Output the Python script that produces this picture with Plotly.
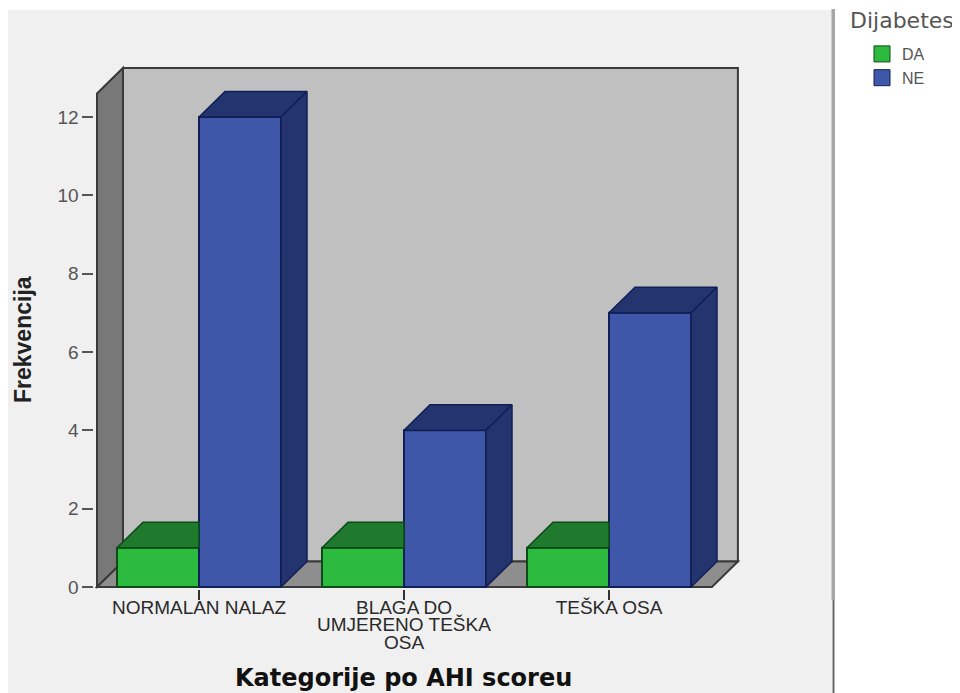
import plotly.graph_objects as go

# the page adds an 8 px body margin and the paper area ends above the figure's bottom,
# so paper positions are worked out against that effective area
PAGE = 8
W, H = 960 - PAGE, 693
H_EFF = 684
def fx(px): return (px - PAGE) / W
def fy(py): return 1 - (py - PAGE) / H_EFF

# data
label_lines = [["NORMALAN NALAZ"], ["BLAGA DO", "UMJERENO TEŠKA", "OSA"], ["TEŠKA OSA"]]
positions = [0, 1, 2]
da_values = [1, 1, 1]
ne_values = [12, 4, 7]
y_ticks = [0, 2, 4, 6, 8, 10, 12]

# style / layout
PX_X, PX_Y = 205.0, 39.17
X0_PX, Y0_PX = 199.0, 587.0
xr = [-0.51, 2.66]
yr = [-0.04, 13.4]
BW = 0.4
DX, DY = 26 / PX_X, 25.5 / PX_Y
WALL_L, FLOOR_R = -0.4976, 2.502
WALL_TOP = 13.25
FRONT_TOP = WALL_TOP - DY
GREEN, GREEN_D = "#2cbb3e", "#1f7a2e"
BLUE, BLUE_D = "#3f57a9", "#24346f"
EDGE_G, EDGE_B = "#0c4a18", "#101f55"

dom_x = [fx(X0_PX + xr[0] * PX_X), fx(X0_PX + xr[1] * PX_X)]
dom_y = [fy(Y0_PX - yr[0] * PX_Y), fy(Y0_PX - yr[1] * PX_Y)]

fig = go.Figure()
fig.add_bar(x=positions, y=da_values, name="DA", marker=dict(color=GREEN, line=dict(color=EDGE_G, width=2)), showlegend=False)
fig.add_bar(x=positions, y=ne_values, name="NE", marker=dict(color=BLUE, line=dict(color=EDGE_B, width=2)), showlegend=False)

def poly(xs, ys, color, edge):
    fig.add_scatter(x=xs + xs[:1], y=ys + ys[:1], mode="lines", fill="toself", fillcolor=color,
                    line=dict(color=edge, width=1.5), showlegend=False, hoverinfo="skip")

for p, v in zip(positions, da_values):
    l = p - BW
    poly([l, l + DX, p, p], [v, v + DY, v + DY, v], GREEN_D, EDGE_G)
for p, v in zip(positions, ne_values):
    r = p + BW
    poly([p, p + DX, r + DX, r], [v, v + DY, v + DY, v], BLUE_D, EDGE_B)
    poly([r, r + DX, r + DX, r], [v, v + DY, DY, 0], BLUE_D, EDGE_B)

for name, color, edge in [("DA", GREEN, EDGE_G), ("NE", BLUE, EDGE_B)]:
    fig.add_scatter(x=[None], y=[None], mode="markers", name=name,
                    marker=dict(symbol="square", size=16, color=color, line=dict(color=edge, width=1)))

def path(pts):
    return "M" + "L".join(f"{a},{b}" for a, b in pts) + "Z"

WALL_EDGE = "#3a3a3a"
shapes = [
    dict(type="rect", xref="paper", yref="paper", x0=fx(8), x1=fx(832), y0=fy(700), y1=fy(10),
         fillcolor="#f0f0f0", line_width=0, layer="below"),
    dict(type="rect", xref="paper", yref="paper", x0=fx(831.5), x1=fx(835), y0=fy(600), y1=fy(9),
         fillcolor="#a6a6a6", line_width=0, layer="below"),
    dict(type="rect", xref="paper", yref="paper", x0=fx(832.5), x1=fx(834.5), y0=fy(700), y1=fy(600),
         fillcolor="#666666", line_width=0, layer="below"),
    dict(type="path", xref="x", yref="y", layer="below", fillcolor="#c0c0c0", line=dict(color=WALL_EDGE, width=2),
         path=path([(WALL_L + DX, DY), (WALL_L + DX, WALL_TOP), (FLOOR_R + DX, WALL_TOP), (FLOOR_R + DX, DY)])),
    dict(type="path", xref="x", yref="y", layer="below", fillcolor="#787878", line=dict(color=WALL_EDGE, width=2),
         path=path([(WALL_L, 0), (WALL_L, FRONT_TOP), (WALL_L + DX, WALL_TOP), (WALL_L + DX, DY)])),
    dict(type="path", xref="x", yref="y", layer="below", fillcolor="#8e8e8e", line=dict(color=WALL_EDGE, width=2),
         path=path([(WALL_L, 0), (WALL_L + DX, DY), (FLOOR_R + DX, DY), (FLOOR_R, 0)])),
]

annotations = [
    dict(text="<b>Frekvencija</b>", xref="paper", yref="paper", x=fx(23), y=fy(340), textangle=-90, showarrow=False,
         xanchor="center", yanchor="middle", font=dict(family="Liberation Sans", size=23, color="#222222")),
    dict(text="<b>Kategorije po AHI scoreu</b>", xref="paper", yref="paper", x=fx(403), y=fy(678), showarrow=False,
         xanchor="center", yanchor="middle", font=dict(family="DejaVu Sans", size=24, color="#111111")),
    dict(text="Dijabetes", xref="paper", yref="paper", x=fx(902), y=fy(20), showarrow=False,
         xanchor="center", yanchor="middle", font=dict(family="DejaVu Sans", size=22, color="#555555")),
]
for p, lines in zip(positions, label_lines):
    for i, line in enumerate(lines[1:], start=1):
        annotations.append(dict(text=line, xref="x", yref="paper", x=p, y=fy(607 + 17.5 * i), showarrow=False,
                                xanchor="center", yanchor="middle",
                                font=dict(family="Liberation Sans", size=19, color="#2a2a2a")))

fig.update_layout(
    width=W, height=H, margin=dict(l=0, r=0, t=0, b=0, pad=0), autosize=False,
    paper_bgcolor="#ffffff", plot_bgcolor="rgba(0,0,0,0)",
    barmode="group", bargap=0.2, bargroupgap=0,
    shapes=shapes, annotations=annotations,
    legend=dict(x=fx(862), y=fy(37), xanchor="left", yanchor="top", bgcolor="rgba(0,0,0,0)",
                font=dict(family="Liberation Sans", size=16, color="#555555"), itemwidth=30),
    xaxis=dict(domain=dom_x, range=xr, tickmode="array", tickvals=positions, ticktext=[l[0] for l in label_lines],
               ticks="outside", ticklen=10, tickwidth=2, tickcolor="#333333", showgrid=False, zeroline=False, showline=False,
               tickfont=dict(family="Liberation Sans", size=19, color="#2a2a2a"), tickangle=0, ticklabelstandoff=-8),
    yaxis=dict(domain=dom_y, range=yr, tickmode="array", tickvals=y_ticks,
               ticks="outside", ticklen=11, tickwidth=2, tickcolor="#555555", showgrid=False, zeroline=False, showline=False,
               tickfont=dict(family="Liberation Sans", size=19, color="#555555")),
)
fig.write_html("out.html")
